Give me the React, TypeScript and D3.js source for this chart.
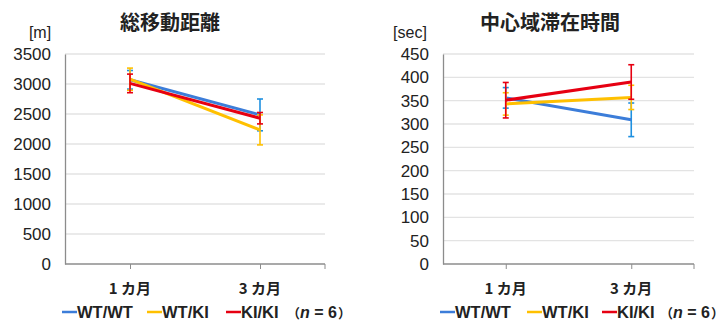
import { useRef, useEffect } from 'react'
import * as d3 from 'd3'

const months = ['1 カ月', '3 カ月']
const seriesNames = ['WT/WT', 'WT/KI', 'KI/KI']
const lineColors = ['#3c7dd9', '#ffc000', '#e60012']
const errColors = ['#1e90e0', '#ffc000', '#e60012']

// 総移動距離 [m]
const distMean = [
  [3070, 2485],
  [3080, 2235],
  [3010, 2430],
]
const distErr = [
  [155, 265],
  [185, 250],
  [155, 95],
]
const distTicks = [0, 500, 1000, 1500, 2000, 2500, 3000, 3500]

// 中心域滞在時間 [sec]
const timeMean = [
  [356, 309],
  [343, 357],
  [351, 390],
]
const timeErr = [
  [22, 36],
  [24, 26],
  [38, 37],
]
const timeTicks = [0, 50, 100, 150, 200, 250, 300, 350, 400, 450]

const JP = '"Noto Sans CJK JP", "Noto Sans", sans-serif'
const LAT = '"Liberation Sans", Arial, sans-serif'

type Panel = {
  title: string
  unit: string
  x0: number
  x1: number
  max: number
  ticks: number[]
  mean: number[][]
  err: number[][]
  titleX: number
  unitX: number
  legendX: number[]
}

const panels: Panel[] = [
  {
    title: '総移動距離',
    unit: '[m]',
    x0: 65,
    x1: 325,
    max: 3500,
    ticks: distTicks,
    mean: distMean,
    err: distErr,
    titleX: 170,
    unitX: 40,
    legendX: [62, 147, 226, 300],
  },
  {
    title: '中心域滞在時間',
    unit: '[sec]',
    x0: 443,
    x1: 694,
    max: 450,
    ticks: timeTicks,
    mean: timeMean,
    err: timeErr,
    titleX: 550,
    unitX: 410,
    legendX: [440, 527, 602, 673],
  },
]

const App = () => {
  const svgRef = useRef<SVGSVGElement>(null)

  useEffect(() => {
    document.body.style.margin = '0'
    const svg = d3.select(svgRef.current)
    svg.selectAll('*').remove()

    const top = 54
    const bottom = 264

    panels.forEach((p) => {
      const g = svg.append('g')

      const x = d3.scalePoint().domain(months).range([p.x0, p.x1]).padding(0.5)
      const y = d3.scaleLinear().domain([0, p.max]).range([bottom, top])

      // gridlines
      g.selectAll('.grid')
        .data(p.ticks.slice(1))
        .join('line')
        .attr('x1', p.x0)
        .attr('x2', p.x1)
        .attr('y1', (d) => y(d))
        .attr('y2', (d) => y(d))
        .attr('stroke', '#e3e3e3')
        .attr('stroke-width', 1.3)

      // y axis
      const yAxis = d3
        .axisLeft(y)
        .tickValues(p.ticks)
        .tickSize(0)
        .tickPadding(14)
        .tickFormat(d3.format('d'))
      const yg = g.append('g').attr('transform', `translate(${p.x0},0)`).call(yAxis)
      yg.select('.domain').attr('stroke', '#8c8c8c').attr('stroke-width', 1.3)
      yg.selectAll('text')
        .attr('font-family', LAT)
        .attr('font-size', 17)
        .attr('fill', '#222')

      // x axis
      const xAxis = d3.axisBottom(x).tickSize(5).tickSizeOuter(0).tickFormat(() => '')
      const xg = g.append('g').attr('transform', `translate(0,${bottom})`).call(xAxis)
      xg.select('.domain').attr('stroke', '#8c8c8c').attr('stroke-width', 1.3).attr('d', `M${p.x0},0H${p.x1}`)
      xg.selectAll('.tick line').attr('stroke', '#8c8c8c')
      g.append('line')
        .attr('x1', p.x1)
        .attr('x2', p.x1)
        .attr('y1', bottom)
        .attr('y2', bottom + 5)
        .attr('stroke', '#8c8c8c')

      g.selectAll('.cat')
        .data(months)
        .join('text')
        .attr('x', (d) => x(d)!)
        .attr('y', 294)
        .attr('text-anchor', 'middle')
        .attr('font-family', JP)
        .attr('font-weight', 'bold')
        .attr('font-size', 15)
        .attr('fill', '#222')
        .text((d) => d)

      // title & unit
      g.append('text')
        .attr('x', p.titleX)
        .attr('y', 30)
        .attr('text-anchor', 'middle')
        .attr('font-family', JP)
        .attr('font-weight', 'bold')
        .attr('font-size', 20)
        .attr('fill', '#222')
        .text(p.title)
      g.append('text')
        .attr('x', p.unitX)
        .attr('y', 38)
        .attr('text-anchor', 'middle')
        .attr('font-family', LAT)
        .attr('font-size', 16)
        .attr('fill', '#222')
        .text(p.unit)

      const lineGen = d3
        .line<number>()
        .x((_, i) => x(months[i])!)
        .y((d) => y(d))

      seriesNames.forEach((name, s) => {
        // error bars
        p.mean[s].forEach((m, i) => {
          const cx = x(months[i])!
          const e = p.err[s][i]
          const eg = g.append('g').attr('stroke', errColors[s]).attr('stroke-width', 1.6)
          eg.append('line').attr('x1', cx).attr('x2', cx).attr('y1', y(m - e)).attr('y2', y(m + e))
          ;[m - e, m + e].forEach((v) => {
            eg.append('line')
              .attr('x1', cx - 3)
              .attr('x2', cx + 3)
              .attr('y1', y(v))
              .attr('y2', y(v))
          })
        })
        g.append('path')
          .attr('d', lineGen(p.mean[s]))
          .attr('fill', 'none')
          .attr('stroke', lineColors[s])
          .attr('stroke-width', 3)
      })

      // legend
      const ly = 318
      seriesNames.forEach((name, s) => {
        const lx = p.legendX[s]
        g.append('line')
          .attr('x1', lx)
          .attr('x2', lx + 15)
          .attr('y1', ly - 6)
          .attr('y2', ly - 6)
          .attr('stroke', lineColors[s])
          .attr('stroke-width', 2.5)
        g.append('text')
          .attr('x', lx + 15)
          .attr('y', ly)
          .attr('font-family', LAT)
          .attr('font-weight', 'bold')
          .attr('font-size', 16.5)
          .attr('fill', '#222')
          .text(name)
      })

      // (n = 6)
      const nx = p.legendX[3]
      g.append('text')
        .attr('x', nx)
        .attr('y', ly)
        .attr('text-anchor', 'end')
        .attr('font-family', JP)
        .attr('font-weight', 'bold')
        .attr('font-size', 13)
        .attr('fill', '#222')
        .text('（')
      const nt = g
        .append('text')
        .attr('x', nx)
        .attr('y', ly)
        .attr('font-family', LAT)
        .attr('font-weight', 'bold')
        .attr('font-size', 16)
        .attr('fill', '#222')
      nt.append('tspan').attr('font-style', 'italic').text('n')
      nt.append('tspan').text(' = 6')
      g.append('text')
        .attr('x', nx + 38)
        .attr('y', ly)
        .attr('font-family', JP)
        .attr('font-weight', 'bold')
        .attr('font-size', 13)
        .attr('fill', '#222')
        .text('）')
    })
  }, [])

  return (
    <div>
      <svg width="725" height="326" ref={svgRef} style={{ display: 'block', background: '#fff' }}></svg>
    </div>
  )
}

export default App
